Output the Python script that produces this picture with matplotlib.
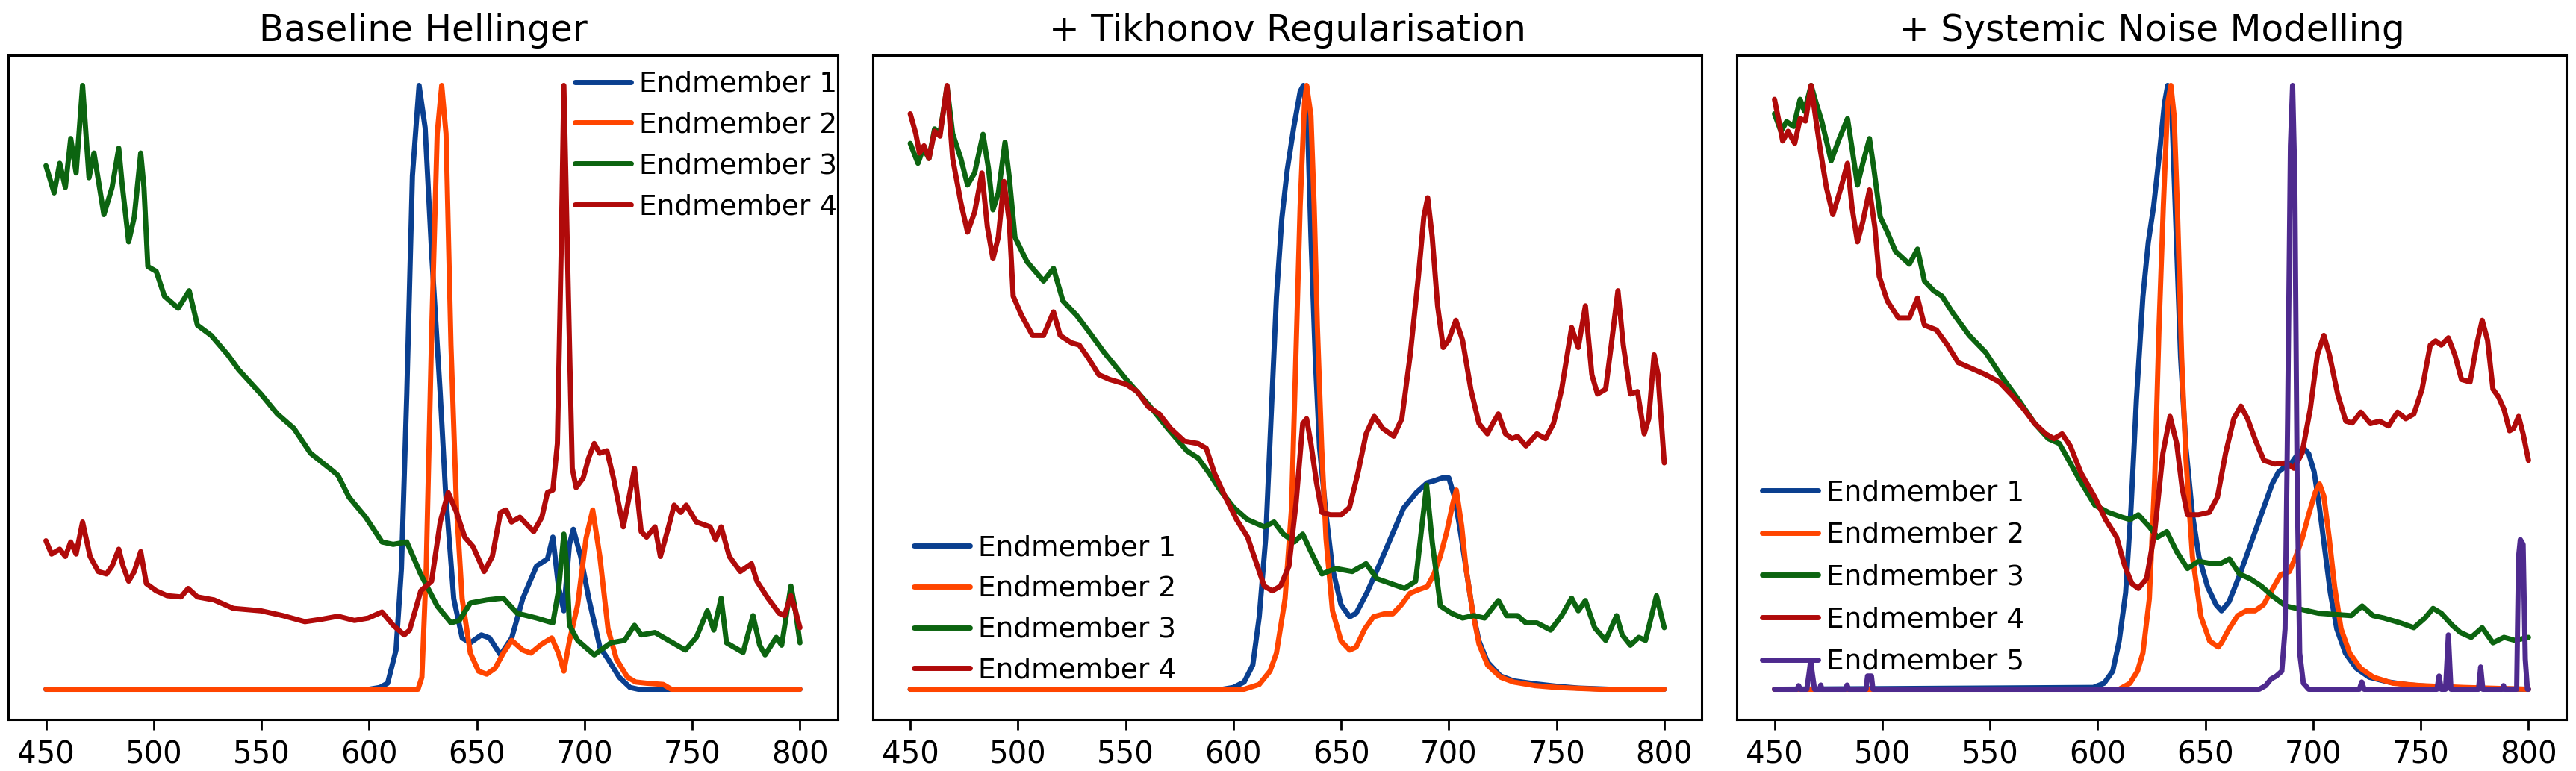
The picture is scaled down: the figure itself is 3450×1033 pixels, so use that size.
import matplotlib.pyplot as plt

# wavelength (nm), normalised intensity
titles = ['Baseline Hellinger', '+ Tikhonov Regularisation', '+ Systemic Noise Modelling']
labels = ['Endmember 1', 'Endmember 2', 'Endmember 3', 'Endmember 4', 'Endmember 5']
colours = ['#0a3f8f', '#ff4500', '#0c6410', '#b00a0a', '#4e2a8e']
xticks = [450, 500, 550, 600, 650, 700, 750, 800]

# ---- panel 1: baseline hellinger
p1_em1 = [(450, 0), (600, 0), (605, .003), (608.6, .01), (612.5, .065), (615, .2), (617.5, .49),
          (620.1, .85), (623.2, 1.0), (626, .93), (629.1, .717), (633, .49), (635.5, .326),
          (639.3, .15), (643.2, .085), (647, .077), (652.1, .09), (655.9, .085), (661, .057),
          (666.2, .085), (671.3, .15), (677.7, .204), (682.8, .216), (685.3, .252), (687.9, .17),
          (690.4, .13), (693, .24), (694.8, .265), (698.2, .22), (702, .15), (707.1, .07),
          (710.9, .05), (716.1, .02), (721.1, .003), (725, 0), (800, 0)]
p1_em2 = [(450, 0), (622.7, 0), (624.5, .02), (626.5, .2), (629.1, .6), (631.6, .92), (633.7, 1.0),
          (635.7, .92), (638, .57), (640.6, .3), (643.2, .15), (647, .06), (650.8, .03), (654.6, .025),
          (658.5, .035), (662.3, .06), (666.2, .081), (671.3, .065), (675.1, .06), (680.2, .075),
          (684.8, .085), (687.9, .06), (690.4, .03), (693, .08), (696.8, .14), (700.7, .25),
          (703.8, .297), (707.1, .22), (710.9, .1), (714.8, .05), (719.9, .02), (723.7, .012),
          (728.8, .01), (736.5, .008), (740.3, 0), (800, 0)]
p1_em3 = [(450, .867), (453.8, .822), (456.4, .871), (459, .831), (461.5, .912), (464, .855),
          (467, 1.0), (470, .847), (472.3, .888), (476.9, .786), (480.7, .831), (483.8, .896),
          (485.3, .839), (488.4, .741), (491, .782), (494, .888), (495.5, .831), (497.3, .700),
          (501.2, .692), (505, .651), (511.4, .631), (516.5, .660), (520.3, .603), (526.7, .586),
          (534.4, .554), (539.5, .529), (549.8, .489), (557.4, .456), (565.1, .432), (572.8, .391),
          (583, .362), (585.6, .354), (590.7, .318), (598.4, .285), (606, .244), (611.2, .240),
          (617.5, .244), (623.9, .191), (631.6, .138), (638, .110), (641.9, .114), (647, .143),
          (654.6, .148), (662.3, .151), (668.7, .126), (677.7, .118), (685.3, .110), (687.9, .163),
          (690.4, .257), (691.7, .204), (693, .106), (696.8, .081), (704.5, .057), (712.2, .077),
          (718.6, .081), (723.2, .106), (726.3, .090), (732.7, .094), (739, .081), (746.8, .065),
          (751.9, .086), (757, .130), (760, .098), (763.4, .151), (765.9, .077), (773.6, .061),
          (778.2, .122), (781.3, .073), (783.8, .057), (789, .086), (791.5, .073), (795.8, .171),
          (797.9, .130), (800, .077)]
p1_em4 = [(450, .246), (452.6, .224), (456.4, .232), (459, .220), (461.5, .244), (464, .224),
          (467, .277), (470.5, .220), (474.3, .195), (478.1, .191), (480.7, .204), (483.8, .232),
          (485.8, .204), (488.4, .179), (491, .195), (494, .228), (496.6, .175), (501.2, .163),
          (506.3, .155), (512.7, .153), (516, .167), (520.3, .153), (528, .148), (537, .134),
          (549.8, .130), (560, .122), (570.2, .112), (577.9, .116), (585.6, .121), (593.2, .114),
          (599.6, .118), (606, .128), (611.2, .106), (616.3, .090), (618.8, .098), (624, .163),
          (629, .179), (633, .277), (636.7, .326), (640.6, .293), (644.4, .252), (648.3, .236),
          (653.4, .195), (657.2, .220), (661, .293), (663.6, .297), (666.1, .277), (670, .285),
          (676.4, .261), (680.2, .285), (682.8, .326), (685.3, .330), (687.4, .407), (689.2, .733),
          (690.4, 1.0), (692.5, .651), (694.3, .366), (696.1, .334), (699.4, .350), (701.9, .383),
          (704.5, .407), (707, .391), (710.4, .395), (713.4, .350), (718, .269), (721.1, .326),
          (723.2, .366), (726.3, .261), (728.8, .252), (732.7, .269), (735.2, .220), (739, .269),
          (741.6, .305), (744.7, .293), (747.2, .305), (751.9, .277), (758.3, .269), (760.8, .248),
          (763.4, .269), (767.2, .220), (772.3, .195), (777.5, .208), (780, .179), (785.1, .151),
          (790.3, .126), (792.8, .122), (795.8, .155), (797.9, .130), (800, .102)]

# ---- panel 2: + tikhonov
p2_em1 = [(450, 0), (595, 0), (600, .003), (605, .012), (609, .04), (612, .12), (615, .25),
          (617.5, .45), (620, .65), (622.5, .78), (625, .86), (628, .93), (631, .99), (632.5, 1.0),
          (634.5, .93), (636, .75), (638, .55), (640, .4), (643, .29), (646, .2), (650, .14),
          (654, .12), (657, .126), (662, .16), (667, .2), (673, .25), (679, .3), (685, .326),
          (690, .342), (693, .345), (697, .35), (700, .35), (702.5, .32), (705, .27), (708, .2),
          (711, .13), (714, .08), (718, .045), (724, .022), (730, .014), (740, .009), (750, .005),
          (760, .002), (775, 0), (800, 0)]
p2_em2 = [(450, 0), (605, 0), (612, .008), (617, .03), (620, .06), (624, .15), (627, .3), (629, .55),
          (631, .8), (633, .97), (634, 1.0), (636, .95), (637.5, .8), (639, .6), (641, .4), (643, .25),
          (646, .13), (650, .08), (654, .065), (657, .07), (661, .1), (665, .12), (670, .125),
          (674, .125), (678, .14), (682, .159), (686, .165), (690, .17), (693, .19), (696, .22),
          (699, .26), (702, .31), (703.5, .33), (706, .27), (708, .2), (711, .13), (714, .075),
          (718, .04), (724, .02), (730, .012), (740, .006), (750, .003), (770, 0), (800, 0)]
p2_em3 = [(450, .904), (453.6, .871), (456.1, .896), (458.7, .879), (461.3, .928), (463.8, .920),
          (467.1, .998), (469.7, .920), (473.5, .879), (476.6, .835), (479.9, .855), (483.8, .919),
          (486.3, .863), (488.4, .794), (490.9, .822), (494, .906), (496, .847), (498.6, .749),
          (504.2, .708), (511.9, .676), (516.5, .697), (520.9, .643), (527.3, .619), (532.4, .595),
          (540, .558), (550.3, .513), (560.5, .472), (569.5, .432), (578.4, .395), (583.6, .383),
          (588.7, .358), (593.8, .330), (600.2, .301), (606.6, .281), (614.3, .269), (618.9, .277),
          (623.2, .257), (628.3, .244), (632.2, .257), (636, .228), (641.1, .191), (647.5, .200),
          (655.2, .195), (661.6, .208), (666.7, .183), (673.1, .175), (679.5, .167), (684.6, .179),
          (687.2, .261), (689.7, .338), (692.3, .244), (696.1, .138), (701.2, .126), (706.4, .118),
          (711.5, .122), (716.6, .118), (723, .147), (726.8, .122), (731.9, .122), (735.8, .110),
          (740.9, .110), (747.3, .098), (752.4, .122), (757, .151), (760.1, .130), (763.4, .147),
          (767.7, .102), (772.8, .081), (777.9, .122), (780.5, .090), (784.3, .073), (788.2, .086),
          (791.3, .081), (796.4, .155), (800, .102)]
p2_em4 = [(450, .953), (452.6, .920), (454.3, .888), (456.4, .900), (458.7, .879), (461.3, .924),
          (463.8, .916), (467.1, 1.0), (469.7, .879), (473.5, .806), (476.6, .757), (479.9, .790),
          (483.3, .855), (485.8, .766), (488.4, .713), (490.9, .749), (493.5, .841), (496, .774),
          (497.8, .651), (501.7, .619), (506.8, .586), (511.9, .586), (516.5, .625), (519.6, .586),
          (524.7, .574), (528.5, .570), (532.4, .550), (537.5, .521), (542.6, .513), (550.3, .505),
          (555.4, .493), (560.5, .468), (565.6, .456), (570.8, .432), (577.2, .411), (583.6, .407),
          (587.4, .399), (591.2, .358), (596.3, .318), (601.5, .281), (606.6, .252), (610.4, .212),
          (614.3, .171), (618.1, .163), (621.9, .171), (625.8, .204), (629.1, .309), (632.2, .440),
          (634, .448), (636, .407), (638.6, .342), (641.1, .293), (645, .289), (650.1, .289),
          (653.9, .301), (657.8, .358), (661.6, .423), (665.4, .452), (669.3, .432), (674.4, .419),
          (678.2, .448), (682.1, .554), (685.9, .684), (688.4, .782), (690.2, .814), (692.3, .749),
          (694.8, .635), (697.4, .566), (699.9, .578), (703.3, .611), (706.4, .578), (710.2, .497),
          (714, .440), (717.9, .423), (720.4, .440), (723, .456), (726.3, .423), (729.4, .415),
          (731.9, .419), (735.8, .403), (740.9, .423), (744.9, .415), (748.6, .440), (752.4, .497),
          (757, .599), (760.1, .566), (763.4, .635), (766.4, .521), (769, .489), (772.8, .497),
          (775.4, .570), (778.5, .660), (781, .570), (784.3, .489), (787.6, .493), (790.7, .423),
          (792.8, .448), (795.3, .554), (797.1, .521), (800, .375)]

# ---- panel 3: + systemic noise
p3_em1 = [(450, 0), (598, .003), (603, .01), (607, .03), (610, .08), (613, .16), (615.5, .3),
          (618, .48), (621, .65), (623.5, .74), (626, .8), (628.5, .88), (631, .97), (632.5, 1.0),
          (634.5, .95), (636.5, .75), (638.5, .55), (641, .4), (644, .29), (647, .22), (651, .17),
          (655, .14), (657.5, .13), (661, .145), (666, .19), (671, .24), (676, .29), (681, .34),
          (684, .36), (687.5, .37), (690, .375), (693, .39), (695.5, .4), (698, .39), (700.5, .36),
          (703, .3), (705.5, .23), (708, .16), (711, .1), (715, .06), (720, .035), (726, .02),
          (735, .012), (745, .007), (760, .003), (780, .001), (800, 0)]
p3_em2 = [(450, 0), (610, 0), (615, .01), (618.5, .03), (621, .06), (624, .15), (626.5, .35),
          (628.5, .6), (630.5, .8), (632.5, .97), (634, 1.0), (635.5, .95), (637, .8), (639, .55),
          (641, .38), (644, .22), (648, .12), (652, .08), (656, .07), (657.5, .077), (661, .1),
          (665, .122), (669, .13), (673, .13), (677, .14), (681, .165), (685, .19), (689, .195),
          (692, .22), (695, .25), (698, .29), (701, .326), (703, .34), (705, .32), (707.5, .25),
          (710, .17), (713, .1), (717, .06), (722, .035), (728, .02), (737, .01), (750, .006),
          (770, .003), (800, 0)]
p3_em3 = [(450, .953), (453, .924), (455.6, .940), (458.9, .932), (461.9, .977), (463.9, .957),
          (467, 1.0), (469.5, .969), (472, .940), (476.3, .875), (480.1, .912), (483.9, .945),
          (486, .896), (488.5, .835), (491, .871), (494.1, .912), (496.1, .863), (499.1, .782),
          (502.4, .757), (506.2, .725), (512.6, .704), (516.4, .729), (519.6, .676), (523.9, .660),
          (527.8, .651), (532.8, .623), (540.4, .586), (548, .558), (555.6, .517), (563.2, .480),
          (570.8, .440), (577.1, .415), (582.2, .407), (586, .383), (591.1, .350), (598.7, .305),
          (605, .293), (611.3, .285), (615.1, .281), (618.9, .289), (624, .269), (627.8, .252),
          (632.1, .261), (636.7, .228), (641.7, .200), (646.8, .212), (653.1, .208), (656.9, .208),
          (661.2, .216), (665.8, .191), (670.8, .183), (675.9, .171), (681, .155), (687.3, .138),
          (694.9, .132), (702.5, .126), (710.1, .124), (717.7, .122), (722.8, .138), (727.8, .122),
          (732.9, .118), (740.5, .110), (746.8, .102), (751.9, .118), (755.7, .134), (759.5, .126),
          (764.6, .106), (768.4, .094), (773.4, .086), (778.5, .102), (783.5, .077), (788.6, .086),
          (793.7, .081), (800, .086)]
p3_em4 = [(450, .977), (451.8, .945), (453.8, .908), (456.3, .924), (459.4, .904), (461.9, .945),
          (464.4, .941), (467, 1.0), (469.5, .936), (471.5, .888), (474.1, .831), (477.1, .786),
          (480.9, .831), (483.9, .871), (486, .798), (488.5, .741), (491, .774), (494.1, .827),
          (496.6, .765), (498.6, .684), (502.4, .643), (507.5, .615), (512.6, .615), (516.4, .648),
          (519.6, .603), (525.2, .595), (530.3, .570), (535.3, .541), (540.4, .533), (548, .521),
          (554.3, .509), (560.7, .485), (565.7, .464), (570.8, .440), (575.9, .423), (579.7, .415),
          (583.5, .423), (587.3, .403), (592.3, .358), (598.7, .318), (603.7, .281), (608.8, .252),
          (612.6, .204), (615.9, .175), (618.9, .167), (622.7, .183), (626.5, .261), (630.3, .391),
          (633.6, .452), (636.7, .407), (639.2, .334), (641.7, .289), (646.8, .289), (651.8, .293),
          (655.6, .318), (659.4, .391), (663.2, .448), (666.5, .469), (669.6, .448), (673.4, .411),
          (677.2, .379), (682.2, .373), (687.3, .375), (691.1, .366), (694.9, .391), (698.7, .464),
          (702, .554), (705, .586), (707.6, .554), (711.4, .489), (715.2, .444), (718.2, .441),
          (722.2, .459), (726.6, .440), (730.9, .444), (735, .436), (739.2, .459), (743, .448),
          (746.8, .456), (750.6, .497), (754.4, .570), (756.9, .577), (759.5, .570), (762.8, .582),
          (765.8, .554), (768.9, .513), (772.9, .509), (775.9, .570), (778.5, .611), (781, .578),
          (783.5, .497), (786.1, .484), (788.6, .464), (791.2, .428), (793.1, .432), (795.4, .452),
          (797.5, .423), (800, .379)]
p3_em5 = [(450, 0), (460.5, 0), (461.2, .006), (462, 0), (465, 0), (466, .025), (466.8, .047),
          (467.6, .025), (468.6, 0), (471, 0), (471.5, .007), (472, 0), (483, 0), (483.7, .007),
          (484.4, 0), (492.5, 0), (493.2, .022), (495, .022), (495.7, 0), (675, 0), (678, .006),
          (680.5, .017), (683, .022), (685.5, .03), (687, .1), (688.2, .45), (689.5, .9),
          (690.5, 1.0), (691.5, .85), (692.6, .35), (693.8, .06), (695.5, .01), (698, 0),
          (721.5, 0), (722.6, .012), (723.7, 0), (757.5, 0), (758.5, .022), (759.5, 0), (761.5, 0),
          (762.8, .09), (764, 0), (776.8, 0), (777.8, .037), (778.8, 0), (787.8, 0), (788.4, .006),
          (789, 0), (794.5, 0), (795.4, .22), (796.2, .248), (797.5, .24), (798.5, .05), (799.5, 0),
          (800, 0)]

panels = [[p1_em1, p1_em2, p1_em3, p1_em4],
          [p2_em1, p2_em2, p2_em3, p2_em4],
          [p3_em1, p3_em2, p3_em3, p3_em4, p3_em5]]

fig, axes = plt.subplots(1, 3, figsize=(34.5, 10.33), dpi=100)
plt.subplots_adjust(left=0.0032, right=0.9962, top=0.9284, bottom=0.0668, wspace=0.042)

for k, ax in enumerate(axes):
    for i, series in enumerate(panels[k]):
        xs = [p[0] for p in series]
        ys = [p[1] for p in series]
        ax.plot(xs, ys, color=colours[i], lw=5, label=labels[i],
                solid_joinstyle='round', solid_capstyle='round')
    ax.set_title(titles[k], fontsize=35, pad=14)
    ax.set_xticks(xticks)
    ax.set_yticks([])
    ax.tick_params(axis='x', labelsize=29, length=10, width=2, pad=10)
    for s in ax.spines.values():
        s.set_linewidth(2.2)

leg_kw = dict(fontsize=27, frameon=False, handlelength=2.0, handletextpad=0.3,
              labelspacing=0.5, borderpad=0.2)
axes[0].legend(loc='upper right', bbox_to_anchor=(1.006, 0.985), borderaxespad=0.0, **leg_kw)
axes[1].legend(loc='lower left', bbox_to_anchor=(0.043, 0.045), borderaxespad=0.0, **leg_kw)
axes[2].legend(loc='lower left', bbox_to_anchor=(0.024, 0.058), borderaxespad=0.0,
               **dict(leg_kw, labelspacing=0.55))

plt.savefig('out.png')
